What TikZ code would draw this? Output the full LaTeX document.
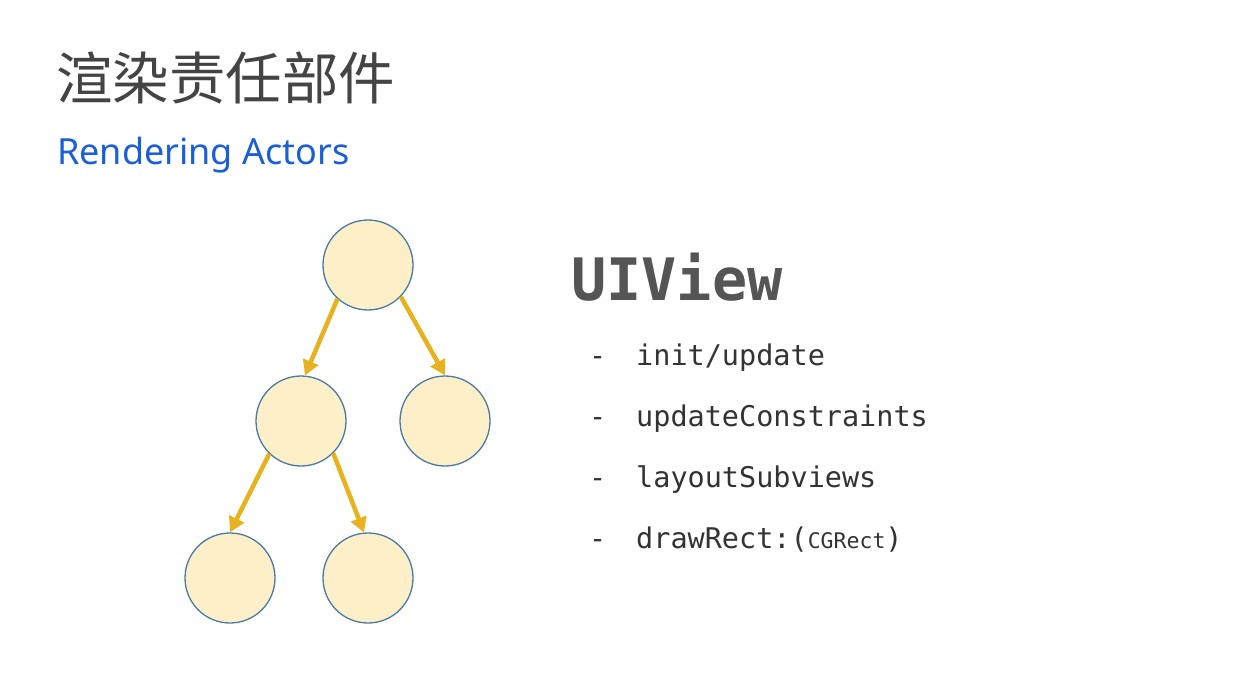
\documentclass[tikz,border=0pt]{standalone}
\usepackage{fontspec}
\setmainfont{Noto Sans}
\newfontfamily\cjkfont{Noto Sans CJK SC}
\newfontfamily\monofont{DejaVu Sans Mono}
\usetikzlibrary{arrows.meta}
\definecolor{titlegray}{HTML}{444444}
\definecolor{subblue}{HTML}{1A5FD8}
\definecolor{circfill}{HTML}{FDEFC8}
\definecolor{circline}{HTML}{4A7AA5}
\definecolor{arrowgold}{HTML}{E8B21F}
\definecolor{headgray}{HTML}{555555}
\definecolor{listgray}{HTML}{333333}
\tikzset{
  treenode/.style={circle, minimum size=90pt, inner sep=0pt, fill=circfill, draw=circline, line width=1.3pt},
  treearrow/.style={draw=arrowgold, line width=4.5pt, -{Triangle[length=15pt,width=16pt]}},
  listitem/.style={anchor=base west, inner sep=0pt, text=listgray, font=\monofont\fontsize{28.5pt}{30pt}\selectfont},
  dashitem/.style={anchor=base west, inner sep=0pt, text=listgray, font=\monofont\fontsize{28.5pt}{30pt}\selectfont}
}
\begin{document}
\begin{tikzpicture}[x=1pt,y=-1pt]
\useasboundingbox[fill=white] (0,0) rectangle (1245,689);
\node[anchor=base west, inner sep=0pt, text=titlegray, font=\cjkfont\fontsize{56.5pt}{60pt}\selectfont] (title) at (56,99) {渲染责任部件};
\node[anchor=base west, inner sep=0pt, text=subblue, font=\fontsize{36pt}{40pt}\selectfont] (sub) at (57,164) {Rendering Actors};

\node[treenode] (t) at (368,265) {};
\node[treenode] (ml) at (301,421) {};
\node[treenode] (mr) at (445,421) {};
\node[treenode] (bl) at (230,578) {};
\node[treenode] (br) at (368,578) {};

\draw[treearrow] (t.228) -- (ml.85);
\draw[treearrow] (t.316) -- (mr.north);
\draw[treearrow] (ml.226) -- (bl.north);
\draw[treearrow] (ml.315) -- (br.95);

\node[anchor=base west, inner sep=0pt, text=headgray, font=\monofont\bfseries\fontsize{58.5pt}{60pt}\selectfont] (uiview) at (571,300) {UIView};

\node[dashitem] (d1) at (589,365) {-};
\node[listitem] (l1) at (636,365) {init/update};
\node[dashitem] (d2) at (589,426) {-};
\node[listitem] (l2) at (636,426) {updateConstraints};
\node[dashitem] (d3) at (589,487) {-};
\node[listitem] (l3) at (636,487) {layoutSubviews};
\node[dashitem] (d4) at (589,548) {-};
\node[listitem] (l4) at (636,548) {drawRect:(\fontsize{21.5pt}{24pt}\selectfont CGRect\fontsize{28.5pt}{30pt}\selectfont)};
\end{tikzpicture}
\end{document}
